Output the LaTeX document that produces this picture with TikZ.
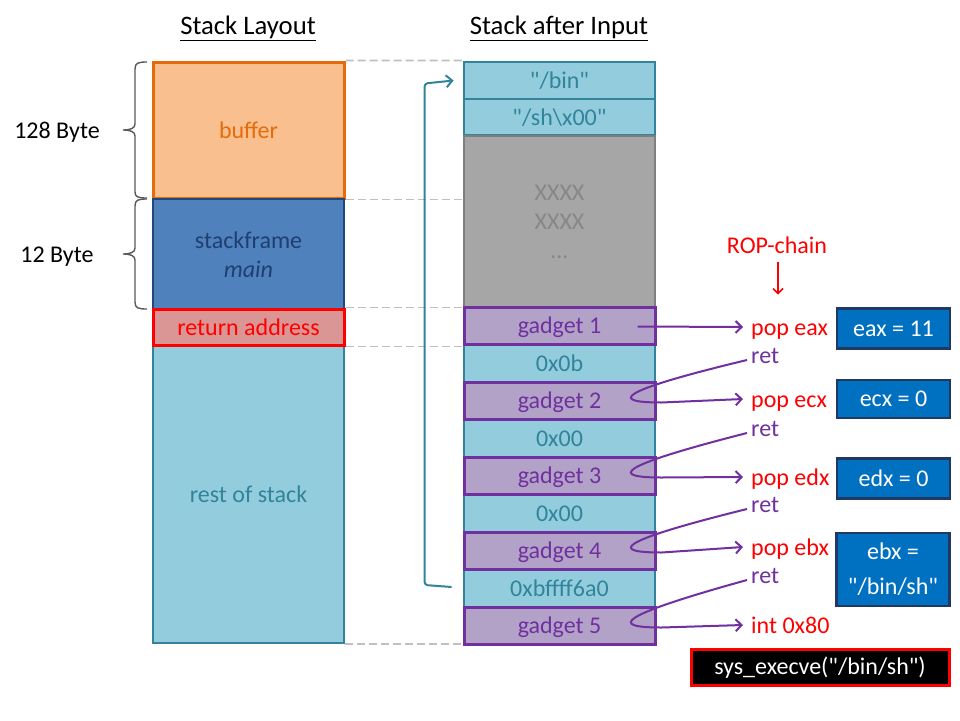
\documentclass[tikz,border=0pt]{standalone}
\usepackage{fontspec}
\setmainfont{Carlito}[Ligatures=TeXOff]
\usetikzlibrary{arrows.meta,calc}
\definecolor{orangeB}{HTML}{E46C0A}
\definecolor{peach}{HTML}{F9BF8F}
\definecolor{sfill}{HTML}{4F81BD}
\definecolor{sborder}{HTML}{1F497D}
\definecolor{stext}{HTML}{1F3F70}
\definecolor{retfill}{HTML}{D99694}
\definecolor{cellfill}{HTML}{93CDDD}
\definecolor{tealc}{HTML}{31849B}
\definecolor{greyfill}{HTML}{A6A6A6}
\definecolor{greyborder}{HTML}{7F7F7F}
\definecolor{greytext}{HTML}{878787}
\definecolor{gadfill}{HTML}{B3A2C7}
\definecolor{purp}{HTML}{7030A0}
\definecolor{regblue}{HTML}{0070C0}
\definecolor{navy}{HTML}{1F3864}
\definecolor{dashgrey}{HTML}{BFBFBF}
\definecolor{bracegrey}{HTML}{595959}
\begin{document}
\begin{tikzpicture}[x=1pt,y=-1pt,font=\fontsize{24}{29}\selectfont,
  cell/.style={minimum width=191pt,inner sep=0pt,align=center},
  one/.style={text height=21pt,text depth=5pt},
  tealcell/.style={cell,one,fill=cellfill,draw=tealc,line width=2.8pt,text=tealc},
  gadget/.style={cell,one,fill=gadfill,draw=purp,line width=3pt,text=purp},
  regbox/.style={fill=regblue,draw=navy,line width=2.5pt,text=white,minimum width=113pt,inner sep=0pt,align=center},
  lbl/.style={one,inner sep=2pt,anchor=west},
  poplbl/.style={lbl,text=red},
  retlbl/.style={lbl,text=purp},
  dashline/.style={draw=dashgrey,line width=1.8pt,dash pattern=on 8pt off 4pt},
  bracecol/.style={draw=bracegrey,line width=1.4pt},
  purparrow/.style={draw=purp,line width=2pt,-{Straight Barb[length=6pt,width=12pt]}},
  titlefont/.style={font=\fontsize{26.7}{32}\selectfont}
]
\useasboundingbox[fill=white] (0,0) rectangle (960,720);

% titles
\node[titlefont] (t1) at (248,28) {\underline{Stack Layout}};
\node[titlefont] (t2) at (559,28) {\underline{Stack after Input}};

% left column
\node[cell,one,fill=peach,draw=orangeB,line width=3pt,text=orangeB,minimum height=136pt] (buffer) at (248.5,130) {buffer};
\node[cell,fill=sfill,draw=sborder,line width=2pt,text=stext,minimum height=111pt] (sframe) at (248.5,254.5) {stackframe\\\itshape main};
\node[cell,one,fill=cellfill,draw=tealc,line width=2.5pt,text=tealc,minimum height=298pt] (rest) at (248.5,494) {rest of stack};
\node[cell,one,fill=retfill,draw=red,line width=3pt,text=red,minimum height=36pt] (retaddr) at (248.5,327) {return address};

% right column
\node[tealcell,minimum height=37pt] (bin) at (559.5,80.5) {"/bin"};
\node[tealcell,minimum height=36pt] (sh) at (559.5,117) {"/sh\textbackslash x00"};
\node[tealcell,minimum height=38pt] (c0b) at (559.5,363) {0x0b};
\node[tealcell,minimum height=38pt] (c00a) at (559.5,438) {0x00};
\node[tealcell,minimum height=38pt] (c00b) at (559.5,513) {0x00};
\node[tealcell,minimum height=38pt] (bff) at (559.5,588) {0xbffff6a0};
\node[cell,fill=greyfill,draw=greyborder,line width=2.5pt,text=greytext,minimum height=172pt] (grey) at (559.5,222) {XXXX\\XXXX\\…};
\node[gadget,minimum height=37pt] (g1) at (559.5,325.5) {gadget 1};
\node[gadget,minimum height=37pt] (g2) at (559.5,400.5) {gadget 2};
\node[gadget,minimum height=37pt] (g3) at (559.5,475.5) {gadget 3};
\node[gadget,minimum height=37pt] (g4) at (559.5,550.5) {gadget 4};
\node[gadget,minimum height=37pt] (g5) at (559.5,625.5) {gadget 5};

% dashed guides
\draw[dashline] (buffer.north east) -- (bin.north west);
\draw[dashline] (buffer.south east) -- (buffer.south east -| grey.west);
\draw[dashline] (retaddr.north east) -- (retaddr.north east -| g1.west);
\draw[dashline] (retaddr.south east) -- (retaddr.south east -| g1.west);
\draw[dashline] (rest.south east) -- (rest.south east -| g5.west);

% braces
\draw[bracecol] (147,62) .. controls (138,62) and (135,63) .. (135,69) -- (135,124)
  .. controls (135,128) and (131,130) .. (123,130)
  .. controls (131,130) and (135,132) .. (135,136) -- (135,192)
  .. controls (135,197) and (138,198) .. (147,198);
\draw[bracecol] (147,199) .. controls (138,199) and (135,200) .. (135,206) -- (135,248)
  .. controls (135,252) and (131,254) .. (123,254)
  .. controls (131,254) and (135,256) .. (135,260) -- (135,302)
  .. controls (135,308) and (138,309) .. (147,309);
\node[one] (b128) at (57,130) {128 Byte};
\node[one] (b12) at (57,254) {12 Byte};

% teal return-to-buffer arrow
\draw[draw=tealc,line width=2pt,rounded corners=3pt,-{Straight Barb[length=6pt,width=12pt]}]
  ($(bff.west)+(-11,-1)$) -- ($(bff.west)+(-38,-3)$) -- ($(bin.west)+(-38,3)$) -- ($(bin.west)+(-9,0)$);

% ROP chain label
\node[text=red,inner sep=2pt] (rop) at (777,245) {ROP-chain};
\draw[draw=red,line width=1.6pt,-{Straight Barb[length=5pt,width=10pt]}] ($(rop.south)+(1,6)$) -- ($(rop.south)+(1,39)$);

% chain labels
\node[poplbl] (p1) at (749,327) {pop eax};
\node[retlbl] (r1) at (749,355) {ret};
\node[poplbl] (p2) at (749,399) {pop ecx};
\node[retlbl] (r2) at (749,428) {ret};
\node[poplbl] (p3) at (749,477) {pop edx};
\node[retlbl] (r3) at (749,504) {ret};
\node[poplbl] (p4) at (749,547) {pop ebx};
\node[retlbl] (r4) at (749,575) {ret};
\node[poplbl] (p5) at (749,625) {int 0x80};

% chain arrows
\draw[purparrow] ($(g1.east)+(-19,1)$) -- ($(p1.west)+(-6,0)$);
\draw[purparrow] ($(r1.west)+(-2,5)$) .. controls ($(g2.east)+(-45,-8)$) and ($(g2.east)+(-45,2)$) .. ($(g2.east)+(5,2)$) -- ($(p2.west)+(-6,0)$);
\draw[purparrow] ($(r2.west)+(-2,5)$) .. controls ($(g3.east)+(-45,-8)$) and ($(g3.east)+(-45,2)$) .. ($(g3.east)+(5,2)$) -- ($(p3.west)+(-6,0)$);
\draw[purparrow] ($(r3.west)+(-2,5)$) .. controls ($(g4.east)+(-45,-8)$) and ($(g4.east)+(-45,2)$) .. ($(g4.east)+(5,2)$) -- ($(p4.west)+(-6,0)$);
\draw[purparrow] ($(r4.west)+(-2,5)$) .. controls ($(g5.east)+(-45,-8)$) and ($(g5.east)+(-45,2)$) .. ($(g5.east)+(5,2)$) -- ($(p5.west)+(-6,0)$);

% register boxes
\node[regbox,minimum height=40pt] (eax) at (893.5,328.5) {eax = 11};
\node[regbox,minimum height=38pt] (ecx) at (893.5,399) {ecx = 0};
\node[regbox,minimum height=40pt] (edx) at (893.5,478.5) {edx = 0};
\node[regbox,minimum height=73pt,font=\fontsize{24}{35}\selectfont] (ebx) at (893,569.5) {ebx =\\"/bin/sh"};
\node[fill=black,draw=red,line width=3pt,text=white,minimum width=258pt,minimum height=36pt,inner sep=0pt] (sys) at (820,667.5) {sys\_execve("/bin/sh")};
\end{tikzpicture}
\end{document}
